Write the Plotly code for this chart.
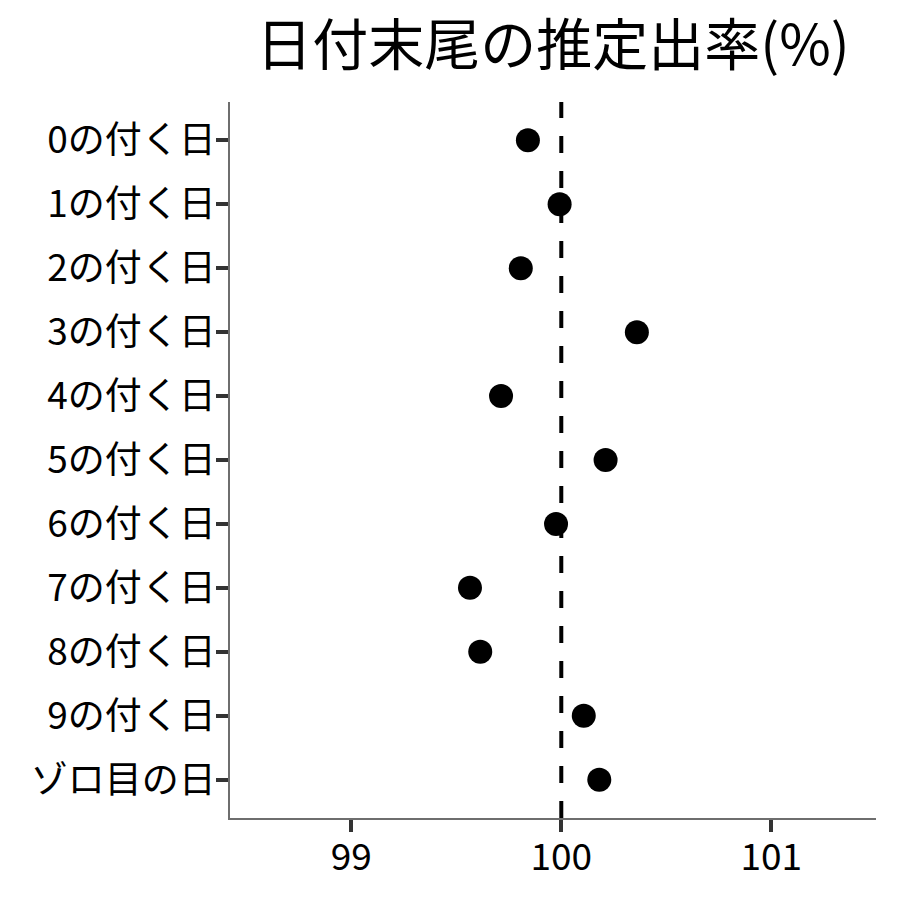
import plotly.graph_objects as go

categories = ["0の付く日", "1の付く日", "2の付く日", "3の付く日", "4の付く日",
              "5の付く日", "6の付く日", "7の付く日", "8の付く日", "9の付く日", "ゾロ目の日"]
rates = [99.841, 99.992, 99.807, 100.360, 99.713, 100.211, 99.975, 99.565, 99.614, 100.107, 100.181]
x_ticks = [99, 100, 101]
reference_value = 100

FONT = "Noto Sans CJK JP"

fig = go.Figure()
fig.add_trace(go.Scatter(
    x=rates, y=categories, mode="markers",
    marker=dict(color="black", size=24),
    showlegend=False, hoverinfo="x+y",
))

fig.add_shape(type="line", xref="x", yref="paper",
              x0=reference_value, x1=reference_value, y0=0, y1=1,
              line=dict(color="black", width=4, dash="17px,18px"))

fig.update_layout(
    width=900, height=900,
    plot_bgcolor="white", paper_bgcolor="white",
    margin=dict(l=230, r=24, t=102, b=82),
    font=dict(family=FONT, color="black"),
    title=dict(text="日付末尾の推定出率(%)", x=0.6145,
               xanchor="center", y=0.95, yanchor="middle",
               font=dict(size=56, family=FONT, color="black")),
)

fig.update_xaxes(
    range=[98.422, 101.499], tickvals=x_ticks, ticktext=[str(v) for v in x_ticks],
    showgrid=False, zeroline=False,
    showline=True, linecolor="#6e6e6e", linewidth=1.5,
    ticks="outside", ticklen=12, tickwidth=3.5, tickcolor="#333333",
    ticklabelstandoff=-6,
    tickfont=dict(size=37, family=FONT, color="black"),
)
fig.update_yaxes(
    type="category", categoryorder="array", categoryarray=categories,
    range=[10.6, -0.6],
    showgrid=False, zeroline=False,
    showline=True, linecolor="#6e6e6e", linewidth=1.5,
    ticks="outside", ticklen=12, tickwidth=3.5, tickcolor="#333333",
    ticklabelstandoff=-7,
    tickfont=dict(size=37, family=FONT, color="black"),
)

fig.write_html("out.html", config={"displayModeBar": False},
               post_script="document.body.style.margin='0px';document.body.style.overflow='hidden';")
